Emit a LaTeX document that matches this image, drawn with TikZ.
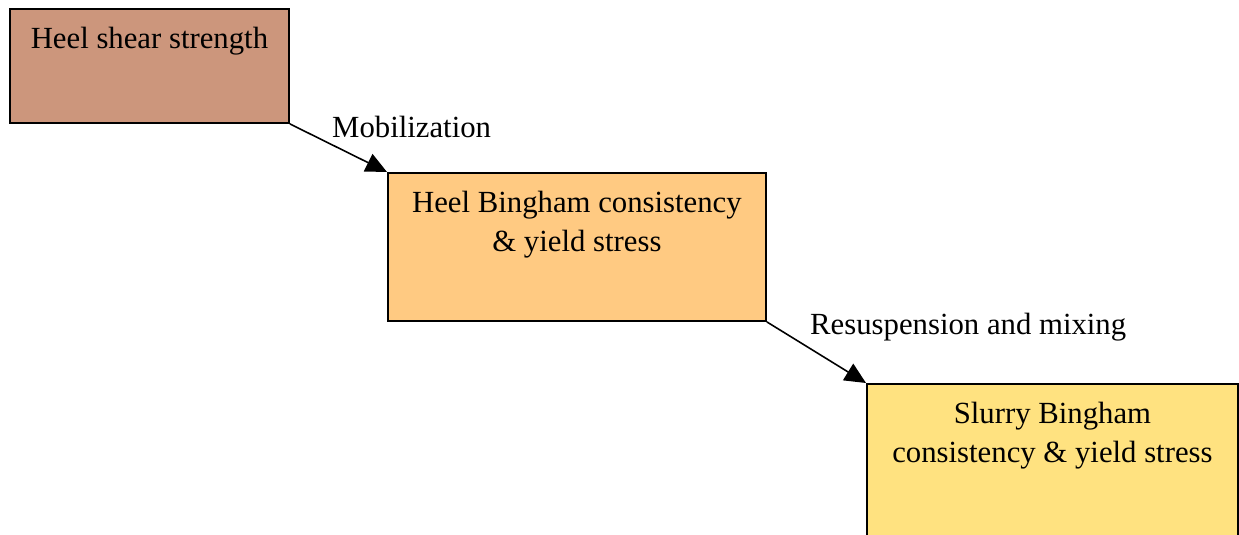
\documentclass[tikz,border=0pt]{standalone}
\usepackage{fontspec}
\setmainfont{Liberation Serif}
\usepackage{xcolor}
\usetikzlibrary{arrows.meta, positioning, calc}

\definecolor{heelbrown}{RGB}{204,150,124}
\definecolor{heelorange}{RGB}{255,202,130}
\definecolor{slurryyellow}{RGB}{255,226,128}

\begin{document}
\begin{tikzpicture}[
    x=0.02cm, y=-0.02cm,
    stage/.style={draw, line width=1.1pt, anchor=north west, inner sep=0pt},
    caption/.style={anchor=north, align=center, font=\fontsize{17.5}{22.2}\selectfont},
    arrow/.style={-{Triangle[length=12pt, width=11pt]}, line width=0.9pt}
]
    \useasboundingbox (0,0) rectangle (1239,534);
    \begin{scope}
    \clip (0,0) rectangle (1239,534);

    % Stages
    \node[stage, fill=heelbrown, minimum width=5.58cm, minimum height=2.28cm] (shear) at (9,8) {};
    \node[stage, fill=heelorange, minimum width=7.56cm, minimum height=2.96cm] (bingham) at (387,172) {};
    \node[stage, fill=slurryyellow, minimum width=7.42cm, minimum height=4cm] (slurry) at (866,383) {};

    % Texts
    \node[caption, below=0.26cm of shear.north] (shearT) {Heel shear strength};
    \node[caption, below=0.26cm of bingham.north] (binghamT) {Heel Bingham consistency\\\& yield stress};
    \node[caption, below=0.26cm of slurry.north] (slurryT) {Slurry Bingham\\consistency \& yield stress};

    % Arrows
    \draw[arrow] (shear.south east) -- (bingham.north west);
    \draw[arrow] (bingham.south east) -- (slurry.north west);

    \node[caption, anchor=west] (mob) at (326,127) {Mobilization};
    \node[caption, anchor=west] (resus) at (804,327) {Resuspension and mixing};
    \end{scope}
\end{tikzpicture}
\end{document}
